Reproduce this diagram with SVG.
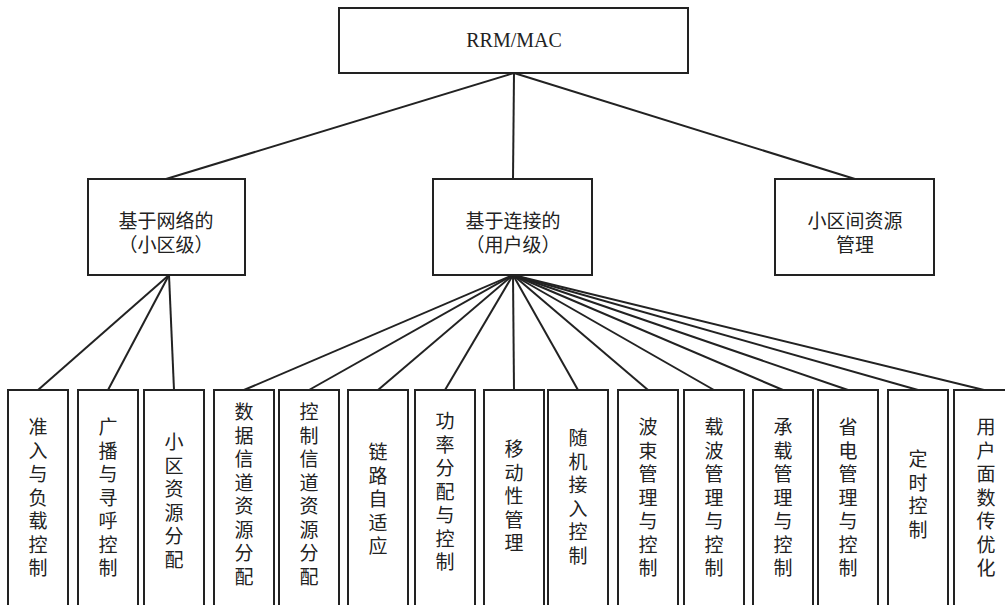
<svg xmlns="http://www.w3.org/2000/svg" width="1005" height="605" viewBox="0 0 1005 605">
<style>
.box{fill:#fff;stroke:#222;stroke-width:2}
.ln{stroke:#222;stroke-width:2;fill:none}
.t{font-family:"Noto Sans CJK SC","Liberation Serif",serif;font-size:19px;fill:#222;text-anchor:middle}
.e{font-family:"Liberation Serif",serif;font-size:20px;fill:#222;text-anchor:middle}
</style>
<rect width="1005" height="605" fill="#fff"/>
<g id="connectors">
<line class="ln" x1="514" y1="73" x2="166" y2="179"/>
<line class="ln" x1="514" y1="73" x2="513" y2="179"/>
<line class="ln" x1="514" y1="73" x2="855" y2="179"/>
<line class="ln" x1="169" y1="275" x2="38" y2="390"/>
<line class="ln" x1="169" y1="275" x2="108" y2="390"/>
<line class="ln" x1="169" y1="275" x2="174" y2="390"/>
<line class="ln" x1="513" y1="275" x2="244" y2="390"/>
<line class="ln" x1="513" y1="275" x2="309" y2="390"/>
<line class="ln" x1="513" y1="275" x2="378" y2="390"/>
<line class="ln" x1="513" y1="275" x2="445" y2="390"/>
<line class="ln" x1="513" y1="275" x2="514" y2="390"/>
<line class="ln" x1="513" y1="275" x2="578" y2="390"/>
<line class="ln" x1="513" y1="275" x2="648" y2="390"/>
<line class="ln" x1="513" y1="275" x2="714" y2="390"/>
<line class="ln" x1="513" y1="275" x2="783" y2="390"/>
<line class="ln" x1="513" y1="275" x2="848" y2="390"/>
<line class="ln" x1="513" y1="275" x2="918" y2="390"/>
<line class="ln" x1="513" y1="275" x2="984" y2="390"/>
</g>
<g id="root"><rect class="box" x="339" y="8" width="349" height="65"/><text class="e" x="514" y="47">RRM/MAC</text></g>
<g id="cell"><rect class="box" x="88" y="179" width="157" height="96"/><text class="t" x="166" y="228">基于网络的</text><text class="t" x="166" y="252">（小区级）</text></g>
<g id="conn"><rect class="box" x="433" y="179" width="159" height="96"/><text class="t" x="513" y="228">基于连接的</text><text class="t" x="513" y="252">（用户级）</text></g>
<g id="inter"><rect class="box" x="775" y="179" width="159" height="96"/><text class="t" x="855" y="228">小区间资源</text><text class="t" x="855" y="252">管理</text></g>
<g id="b1"><rect class="box" x="8" y="390" width="60" height="230"/><text class="t" x="38" y="434">准<tspan x="38" dy="23.5">入</tspan><tspan x="38" dy="23.5">与</tspan><tspan x="38" dy="23.5">负</tspan><tspan x="38" dy="23.5">载</tspan><tspan x="38" dy="23.5">控</tspan><tspan x="38" dy="23.5">制</tspan></text></g>
<g id="b2"><rect class="box" x="78" y="390" width="60" height="230"/><text class="t" x="108" y="434">广<tspan x="108" dy="23.5">播</tspan><tspan x="108" dy="23.5">与</tspan><tspan x="108" dy="23.5">寻</tspan><tspan x="108" dy="23.5">呼</tspan><tspan x="108" dy="23.5">控</tspan><tspan x="108" dy="23.5">制</tspan></text></g>
<g id="b3"><rect class="box" x="144" y="390" width="60" height="230"/><text class="t" x="174" y="449">小<tspan x="174" dy="23.5">区</tspan><tspan x="174" dy="23.5">资</tspan><tspan x="174" dy="23.5">源</tspan><tspan x="174" dy="23.5">分</tspan><tspan x="174" dy="23.5">配</tspan></text></g>
<g id="b4"><rect class="box" x="214" y="390" width="60" height="230"/><text class="t" x="244" y="419">数<tspan x="244" dy="23.5">据</tspan><tspan x="244" dy="23.5">信</tspan><tspan x="244" dy="23.5">道</tspan><tspan x="244" dy="23.5">资</tspan><tspan x="244" dy="23.5">源</tspan><tspan x="244" dy="23.5">分</tspan><tspan x="244" dy="23.5">配</tspan></text></g>
<g id="b5"><rect class="box" x="279" y="390" width="60" height="230"/><text class="t" x="309" y="419">控<tspan x="309" dy="23.5">制</tspan><tspan x="309" dy="23.5">信</tspan><tspan x="309" dy="23.5">道</tspan><tspan x="309" dy="23.5">资</tspan><tspan x="309" dy="23.5">源</tspan><tspan x="309" dy="23.5">分</tspan><tspan x="309" dy="23.5">配</tspan></text></g>
<g id="b6"><rect class="box" x="348" y="390" width="60" height="230"/><text class="t" x="378" y="459">链<tspan x="378" dy="23.5">路</tspan><tspan x="378" dy="23.5">自</tspan><tspan x="378" dy="23.5">适</tspan><tspan x="378" dy="23.5">应</tspan></text></g>
<g id="b7"><rect class="box" x="415" y="390" width="60" height="230"/><text class="t" x="445" y="428">功<tspan x="445" dy="23.5">率</tspan><tspan x="445" dy="23.5">分</tspan><tspan x="445" dy="23.5">配</tspan><tspan x="445" dy="23.5">与</tspan><tspan x="445" dy="23.5">控</tspan><tspan x="445" dy="23.5">制</tspan></text></g>
<g id="b8"><rect class="box" x="484" y="390" width="60" height="230"/><text class="t" x="514" y="456">移<tspan x="514" dy="23.5">动</tspan><tspan x="514" dy="23.5">性</tspan><tspan x="514" dy="23.5">管</tspan><tspan x="514" dy="23.5">理</tspan></text></g>
<g id="b9"><rect class="box" x="548" y="390" width="60" height="230"/><text class="t" x="578" y="445">随<tspan x="578" dy="23.5">机</tspan><tspan x="578" dy="23.5">接</tspan><tspan x="578" dy="23.5">入</tspan><tspan x="578" dy="23.5">控</tspan><tspan x="578" dy="23.5">制</tspan></text></g>
<g id="b10"><rect class="box" x="618" y="390" width="60" height="230"/><text class="t" x="648" y="434">波<tspan x="648" dy="23.5">束</tspan><tspan x="648" dy="23.5">管</tspan><tspan x="648" dy="23.5">理</tspan><tspan x="648" dy="23.5">与</tspan><tspan x="648" dy="23.5">控</tspan><tspan x="648" dy="23.5">制</tspan></text></g>
<g id="b11"><rect class="box" x="684" y="390" width="60" height="230"/><text class="t" x="714" y="434">载<tspan x="714" dy="23.5">波</tspan><tspan x="714" dy="23.5">管</tspan><tspan x="714" dy="23.5">理</tspan><tspan x="714" dy="23.5">与</tspan><tspan x="714" dy="23.5">控</tspan><tspan x="714" dy="23.5">制</tspan></text></g>
<g id="b12"><rect class="box" x="753" y="390" width="60" height="230"/><text class="t" x="783" y="434">承<tspan x="783" dy="23.5">载</tspan><tspan x="783" dy="23.5">管</tspan><tspan x="783" dy="23.5">理</tspan><tspan x="783" dy="23.5">与</tspan><tspan x="783" dy="23.5">控</tspan><tspan x="783" dy="23.5">制</tspan></text></g>
<g id="b13"><rect class="box" x="818" y="390" width="60" height="230"/><text class="t" x="848" y="434">省<tspan x="848" dy="23.5">电</tspan><tspan x="848" dy="23.5">管</tspan><tspan x="848" dy="23.5">理</tspan><tspan x="848" dy="23.5">与</tspan><tspan x="848" dy="23.5">控</tspan><tspan x="848" dy="23.5">制</tspan></text></g>
<g id="b14"><rect class="box" x="888" y="390" width="60" height="230"/><text class="t" x="918" y="466">定<tspan x="918" dy="23.5">时</tspan><tspan x="918" dy="23.5">控</tspan><tspan x="918" dy="23.5">制</tspan></text></g>
<g id="b15"><rect class="box" x="954" y="390" width="60" height="230"/><text class="t" x="986" y="434">用<tspan x="986" dy="23.5">户</tspan><tspan x="986" dy="23.5">面</tspan><tspan x="986" dy="23.5">数</tspan><tspan x="986" dy="23.5">传</tspan><tspan x="986" dy="23.5">优</tspan><tspan x="986" dy="23.5">化</tspan></text></g>
</svg>
